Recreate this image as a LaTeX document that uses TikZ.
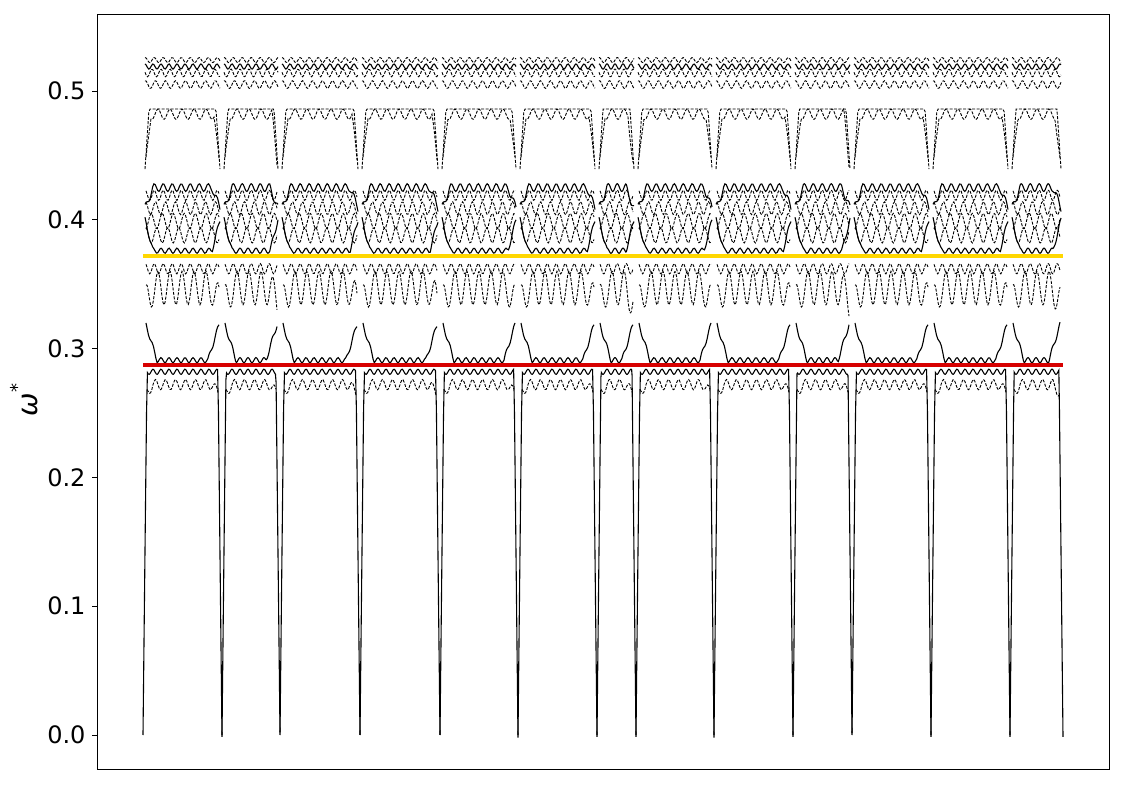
\documentclass[tikz,border=0pt]{standalone}
\usepackage{fontspec}
\setmainfont{DejaVu Sans}
\begin{document}
\begin{tikzpicture}[x=1pt,y=1pt,
  band/.style={line width=1.1pt,black},
  dband/.style={line width=0.9pt,black,dash pattern=on 3pt off 1.5pt},
  tick/.style={line width=0.8pt},
  lab/.style={anchor=east,font=\fontsize{24}{24}\selectfont}]
\useasboundingbox (0,0) rectangle (1125,785);
\draw[line width=0.8pt] (97,16) rectangle (1109,771);
\foreach \v/\t in {0/0.0,1/0.1,2/0.2,3/0.3,4/0.4,5/0.5}{
  \draw[tick] (97,{50+128.8*\v}) -- (92,{50+128.8*\v});
  \node[lab] (t\v) at (89,{50+128.8*\v}) {\t};
}
\node[rotate=90,font=\fontsize{28}{28}\selectfont] (ylab) at (24,385) {\itshape ω\raisebox{0.5em}{\fontsize{18}{18}\selectfont *}};
\foreach \a/\b in {143/222,222/280,280/360,360/440,440/518,518/597,597/636,636/714,714/793,793/852,852/931,931/1010,1010/1063}{
  \draw[band] plot[domain=\a:\b,samples=90] (\x,{50+1288*(0.282*min(1,min(\x-\a,\b-\x)/4)+0.002*sin((\x-\a)/8*360))});
  \draw[dband] plot[domain=\a+4:\b-4,samples=60] (\x,{50+1288*(0.272+0.004*sin((\x-\a)/10*360)-0.01*max(0,1-min(\x-\a,\b-\x)/10))});
  \draw[band] plot[domain=\a+3:\b-3,samples=60] (\x,{50+1288*(0.291+0.002*sin((\x-\a)/8*360)+0.035*max(0,1-min(\x-\a,\b-\x)/14))});
  \draw[dband] plot[domain=\a+3:\b-3,samples=70] (\x,{50+1288*(0.347+0.013*sin((\x-\a)/12*360)-0.015*max(0,1-min(\x-\a,\b-\x)/10))});
  \draw[dband] plot[domain=\a+3:\b-3,samples=60] (\x,{50+1288*(0.362+0.004*sin((\x-\a)/9*360))});
  \draw[band] plot[domain=\a+2:\b-2,samples=60] (\x,{50+1288*(0.376+0.002*sin((\x-\a)/8*360)+0.03*max(0,1-min(\x-\a,\b-\x)/10))});
  \draw[dband] plot[domain=\a+3:\b-3,samples=60] (\x,{50+1288*(0.388+0.006*sin((\x-\a)/11*360))});
  \draw[dband] plot[domain=\a+3:\b-3,samples=60] (\x,{50+1288*(0.399+0.006*sin((\x-\a)/11*360+180))});
  \draw[dband] plot[domain=\a+3:\b-3,samples=60] (\x,{50+1288*(0.409+0.005*sin((\x-\a)/10*360))});
  \draw[dband] plot[domain=\a+3:\b-3,samples=60] (\x,{50+1288*(0.419+0.004*sin((\x-\a)/9*360))});
  \draw[band] plot[domain=\a+2:\b-2,samples=60] (\x,{50+1288*(0.425+0.003*sin((\x-\a)/9*360)-0.02*max(0,1-min(\x-\a,\b-\x)/10))});
  \draw[dband] plot[domain=\a+3:\b-3,samples=60] (\x,{50+1288*(0.482+0.004*sin((\x-\a)/12*360)-0.06*max(0,1-min(\x-\a,\b-\x)/8))});
  \draw[dband] plot[domain=\a+2:\b-2,samples=60] (\x,{50+1288*(0.486-0.07*max(0,1-min(\x-\a,\b-\x)/6))});
  \draw[dband] plot[domain=\a+2:\b-2,samples=60] (\x,{50+1288*(0.505+0.003*sin((\x-\a)/10*360))});
  \draw[dband] plot[domain=\a+2:\b-2,samples=60] (\x,{50+1288*(0.514+0.003*sin((\x-\a)/9*360+90))});
  \draw[band] plot[domain=\a+2:\b-2,samples=60] (\x,{50+1288*(0.519+0.002*sin((\x-\a)/8*360))});
  \draw[dband] plot[domain=\a+2:\b-2,samples=60] (\x,{50+1288*(0.524+0.002*sin((\x-\a)/9*360))});
}
\coordinate (y1) at (143,{50+1288*0.372});
\coordinate (y2) at (1063,{50+1288*0.372});
\coordinate (r1) at (143,{50+1288*0.287});
\coordinate (r2) at (1063,{50+1288*0.287});
\draw[line width=4.5pt,color={rgb,255:red,255;green,215;blue,0}] (y1) -- (y2);
\draw[line width=4pt,color={rgb,255:red,215;green,0;blue,0}] (r1) -- (r2);
\end{tikzpicture}
\end{document}
